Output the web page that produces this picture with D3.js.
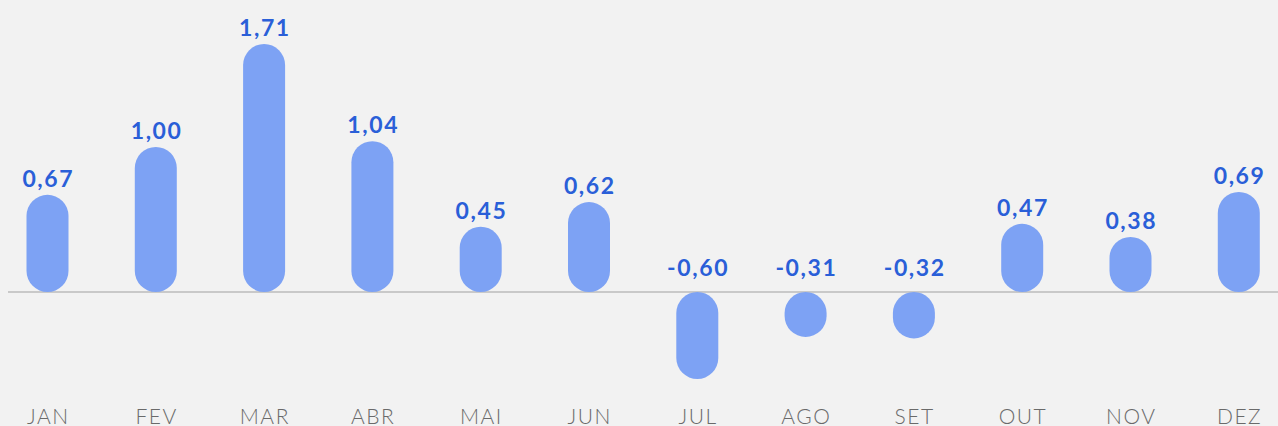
<!DOCTYPE html>
<html>
<head>
<meta charset="utf-8">
<script src="https://cdn.jsdelivr.net/npm/d3@7"></script>
<style>
  html, body { margin: 0; padding: 0; background: #f2f2f2; }
  svg { display: block; }
</style>
</head>
<body>
<svg id="chart" width="1278" height="426"></svg>
<script>
const months = ["JAN","FEV","MAR","ABR","MAI","JUN","JUL","AGO","SET","OUT","NOV","DEZ"];
const values = [0.67, 1.00, 1.71, 1.04, 0.45, 0.62, -0.60, -0.31, -0.32, 0.47, 0.38, 0.69];
const valueLabels = ["0,67","1,00","1,71","1,04","0,45","0,62","-0,60","-0,31","-0,32","0,47","0,38","0,69"];

const W = 1278, H = 426;
const svg = d3.select("#chart");
svg.append("rect").attr("width", W).attr("height", H).attr("fill", "#f2f2f2");

const step = 108.3;
const x = d3.scaleBand()
  .domain(months)
  .range([47.5 - step / 2, 47.5 + step * 11.5])
  .paddingInner(0.615)
  .paddingOuter(0.3075);

const y = d3.scaleLinear().domain([0, 1.71]).range([292, 44]);

const barW = 42;
const data = months.map((m, i) => ({ m, v: values[i], label: valueLabels[i] }));

// baseline
svg.append("line")
  .attr("x1", 8).attr("x2", W)
  .attr("y1", y(0)).attr("y2", y(0))
  .attr("stroke", "#a0a0a0").attr("stroke-width", 1);

// bars
svg.selectAll("rect.bar").data(data).enter().append("rect")
  .attr("class", "bar")
  .attr("x", d => x(d.m) + x.bandwidth() / 2 - barW / 2)
  .attr("width", barW)
  .attr("y", d => Math.min(y(d.v), y(0)))
  .attr("height", d => Math.abs(y(d.v) - y(0)))
  .attr("rx", barW / 2).attr("ry", barW / 2)
  .attr("fill", "#7da2f4");

// value labels
const valLS = 1.6;
svg.selectAll("text.val").data(data).enter().append("text")
  .attr("class", "val")
  .attr("x", d => x(d.m) + x.bandwidth() / 2 + valLS / 2)
  .attr("y", d => d.v >= 0 ? y(d.v) - 8 : y(0) - 16)
  .attr("text-anchor", "middle")
  .attr("font-family", "Lato, 'Noto Sans', sans-serif")
  .attr("font-weight", 700)
  .attr("font-size", 23)
  .attr("letter-spacing", valLS)
  .attr("fill", "#2a5fd8")
  .text(d => d.label);

// month labels
const monLS = 1.5;
svg.selectAll("text.month").data(data).enter().append("text")
  .attr("class", "month")
  .attr("x", d => x(d.m) + x.bandwidth() / 2 + monLS / 2)
  .attr("y", 423.5)
  .attr("text-anchor", "middle")
  .attr("font-family", "Lato, 'Noto Sans', sans-serif")
  .attr("font-weight", 300)
  .attr("font-size", 21)
  .attr("letter-spacing", monLS)
  .attr("fill", "#6a6a6a")
  .text(d => d.m);
</script>
</body>
</html>
